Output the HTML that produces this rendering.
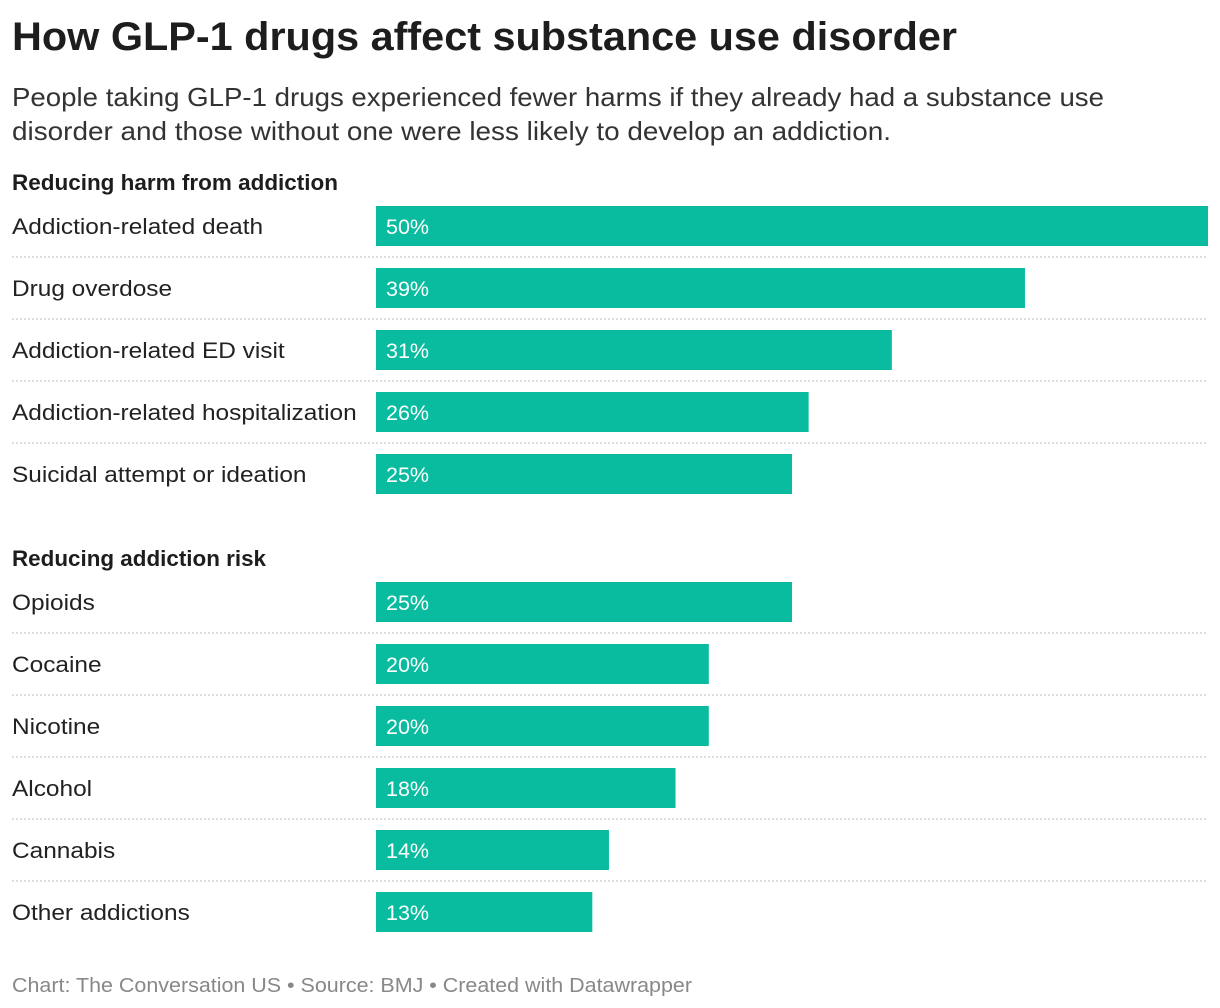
<!DOCTYPE html>
<html><head><meta charset="utf-8">
<style>
html,body{margin:0;padding:0;background:#fff;}
svg{display:block;font-family:"Liberation Sans",Arial,sans-serif;}
</style></head>
<body>
<svg id="chart" width="1220" height="1008" viewBox="0 0 1220 1008" xmlns="http://www.w3.org/2000/svg">
<text x="12" y="50" font-size="40" font-weight="bold" fill="#1d1d1d" textLength="945" lengthAdjust="spacingAndGlyphs">How GLP-1 drugs affect substance use disorder</text>
<text x="12" y="106" font-size="26" fill="#333" textLength="1092" lengthAdjust="spacingAndGlyphs">People taking GLP-1 drugs experienced fewer harms if they already had a substance use</text>
<text x="12" y="140" font-size="26" fill="#333" textLength="879" lengthAdjust="spacingAndGlyphs">disorder and those without one were less likely to develop an addiction.</text>
<text x="12" y="190" font-size="22" font-weight="bold" fill="#1d1d1d" textLength="326" lengthAdjust="spacingAndGlyphs">Reducing harm from addiction</text>
<text x="12" y="566" font-size="22" font-weight="bold" fill="#1d1d1d" textLength="254" lengthAdjust="spacingAndGlyphs">Reducing addiction risk</text>
<g id="bars"></g>
<text x="12" y="992" font-size="20" fill="#888" textLength="680" lengthAdjust="spacingAndGlyphs">Chart: The Conversation US • Source: BMJ • Created with Datawrapper</text>
</svg>
<script>
const harmCategories = ["Addiction-related death","Drug overdose","Addiction-related ED visit","Addiction-related hospitalization","Suicidal attempt or ideation"];
const harmValues = [50,39,31,26,25];
const riskCategories = ["Opioids","Cocaine","Nicotine","Alcohol","Cannabis","Other addictions"];
const riskValues = [25,20,20,18,14,13];

const NS = "http://www.w3.org/2000/svg";
const g = document.getElementById("bars");
const x0 = 376, x1 = 1208, maxV = 50;
function xScale(v){ return x0 + (v / maxV) * (x1 - x0); }
function mk(tag, attrs){ const e = document.createElementNS(NS, tag); for (const k in attrs) e.setAttribute(k, attrs[k]); return e; }

function drawGroup(cats, vals, top, prefix){
  cats.forEach((c, i) => {
    const y = top + i * 62;
    const lab = mk("text", {x:12, y:y+28, "font-size":22.5, fill:"#222"});
    
    
    lab.textContent = c;
    g.appendChild(lab);
    const w = lab.getComputedTextLength();
    if (w > 0) { lab.setAttribute("textLength", (w * 1.085).toFixed(1)); lab.setAttribute("lengthAdjust", "spacingAndGlyphs"); }
    const r = mk("rect", {x:x0, y:y, width:xScale(vals[i]) - x0, height:40, fill:"#0abc9f"});
    
    
    g.appendChild(r);
    const v = mk("text", {x:x0+10, y:y+28, "font-size":21.5, fill:"#fff"});
    
    
    v.textContent = vals[i] + "%";
    g.appendChild(v);
    if (i < cats.length - 1) {
      const l = mk("line", {x1:12, x2:1208, y1:y+51, y2:y+51, stroke:"#d4d4d4", "stroke-width":1.5, "stroke-dasharray":"2,2"});
      
      
      g.appendChild(l);
    }
  });
}
drawGroup(harmCategories, harmValues, 206, "harm");
drawGroup(riskCategories, riskValues, 582, "risk");
</script>
</body></html>
